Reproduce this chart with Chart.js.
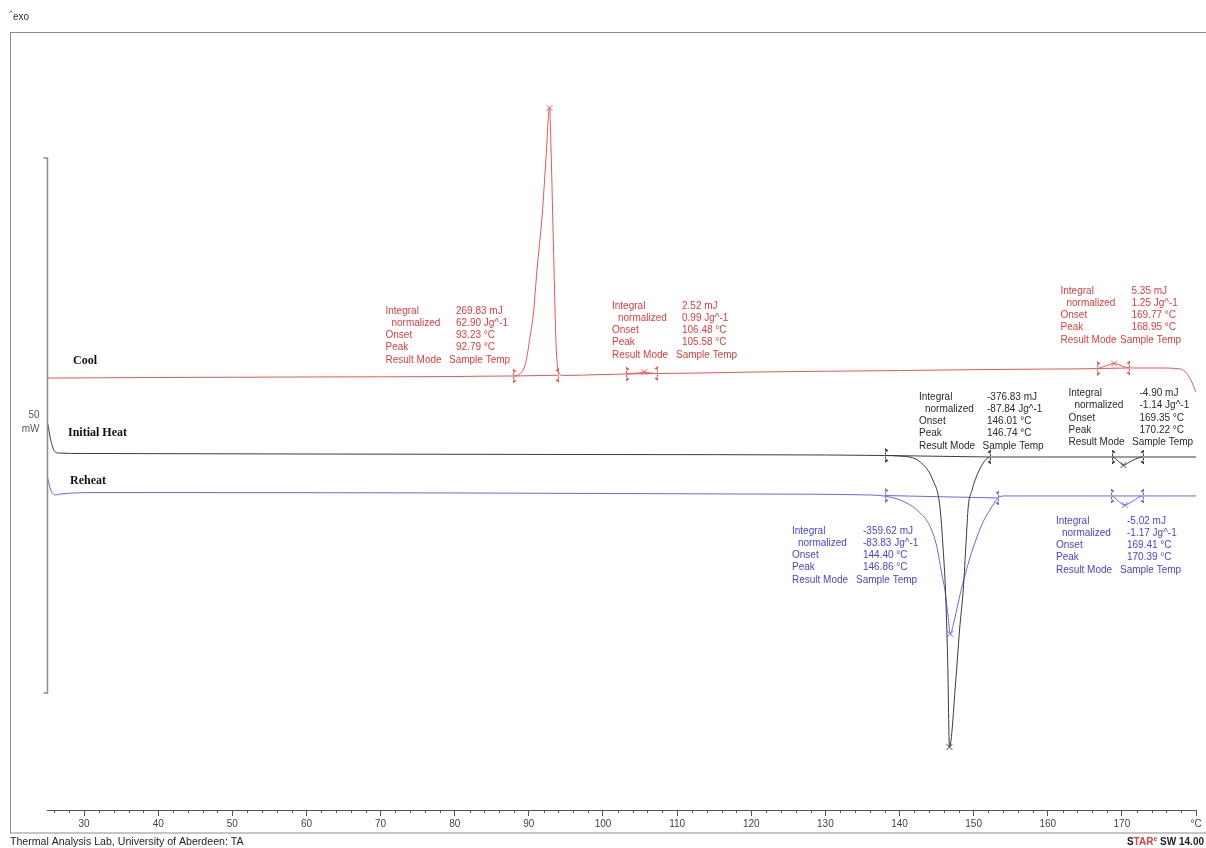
<!DOCTYPE html>
<html>
<head>
<meta charset="utf-8">
<title>DSC - Cool / Initial Heat / Reheat</title>
<script src="https://cdn.jsdelivr.net/npm/chart.js@4.4.1/dist/chart.umd.min.js"></script>
<style>
  html, body { margin: 0; padding: 0; background: #fff; }
  canvas { display: block; }
</style>
</head>
<body>
<canvas id="dsc" width="1206" height="848"></canvas>
<script>
// DSC run
// x = sample temperature (degC), y = heat flow (mW, each curve keeps its own offset)

var coolT = [25.1, 40, 60, 80, 87.0, 87.9, 88.8, 89.6, 90.2, 90.6,
  91.1, 91.8, 92.3, 92.79, 93.0, 93.2, 93.4, 93.65, 93.9, 94.3,
  94.8, 100, 103.1, 104.8, 105.58, 106.4, 107.3, 120, 140, 160,
  166.6, 167.8, 168.95, 170.2, 171.1, 175, 177.5, 178.6, 179.3, 180];
var coolMW = [40.37, 40.42, 40.47, 40.51, 40.56, 40.56, 40.75, 41.87, 44.39, 46.26,
  50.47, 55.61, 60.75, 65.61, 61.68, 56.07, 50.47, 43.93, 41.31, 40.65,
  40.61, 40.70, 40.75, 40.84, 40.93, 40.84, 40.79, 40.93, 41.07, 41.21,
  41.26, 41.50, 41.73, 41.45, 41.31, 41.31, 41.26, 40.93, 40.19, 39.07];

var heatT = [25.1, 25.5, 26.0, 26.6, 30, 60, 100, 130, 138, 140,
  142.8, 144.5, 145.46, 145.9, 146.2, 146.5, 146.74,
  147.6, 148.1, 148.6, 149.0, 149.27, 149.8, 150.2, 151.3, 152.2,
  160, 168.7, 169.5, 170.22, 171.3, 172.8, 180];
var heatMW = [36.10, 34.60, 33.55, 33.36, 33.32, 33.27, 33.22, 33.18, 33.13, 33.08,
  32.52, 30.84, 28.32, 24.30, 20.56, 14.02, 5.89,
  12.15, 16.82, 20.56, 25.23, 28.32, 29.91, 30.84, 32.43, 32.99,
  32.99, 32.99, 32.62, 32.24, 32.62, 32.99, 32.99];

var reheatT = [25.1, 25.5, 26.1, 26.8, 32, 80, 120, 136,
  138.7, 140.7, 142.8, 144.1, 145.05, 145.73, 146.13, 146.54, 146.86,
  147.34, 147.88, 148.42, 149.5, 150.45, 151.4, 152.2, 153.3, 154.2,
  168.6, 169.5, 170.39, 171.5, 172.8, 180];
var reheatMW = [31.03, 29.91, 29.44, 29.53, 29.67, 29.63, 29.53, 29.44,
  29.25, 28.79, 27.76, 26.54, 24.58, 21.96, 20.56, 18.22, 16.45,
  17.57, 19.25, 20.84, 23.55, 25.51, 27.10, 28.04, 29.16, 29.35,
  29.35, 28.88, 28.50, 28.88, 29.35, 29.35];

// integration limits (pairs: left, right)
var coolLimT = [87.9, 94.0, 103.1, 107.3, 166.6, 171.0];
var coolLimMW = [40.56, 40.63, 40.75, 40.79, 41.26, 41.31];
var heatLimT = [138.0, 152.2, 168.7, 172.8];
var heatLimMW = [33.13, 32.99, 32.99, 32.99];
var reheatLimT = [138.0, 153.3, 168.6, 172.8];
var reheatLimMW = [29.39, 29.16, 29.35, 29.35];

// peak markers
var coolPeakT = [92.79, 105.58, 168.95];
var coolPeakMW = [65.61, 40.93, 41.73];
var heatPeakT = [146.74, 170.22];
var heatPeakMW = [5.89, 32.24];
var reheatPeakT = [146.86, 170.39];
var reheatPeakMW = [16.45, 28.50];

// evaluation results: integral mJ, normalized Jg^-1, onset degC, peak degC
var coolResults = [
  ['269.83', '62.90', '93.23', '92.79'],
  ['2.52', '0.99', '106.48', '105.58'],
  ['5.35', '1.25', '169.77', '168.95']
];
var heatResults = [
  ['-376.83', '-87.84', '146.01', '146.74'],
  ['-4.90', '-1.14', '169.35', '170.22']
];
var reheatResults = [
  ['-359.62', '-83.83', '144.40', '146.86'],
  ['-5.02', '-1.17', '169.41', '170.39']
];

var scaleBarMW = [10.93, 60.93]; // 50 mW bar
var xTickStep = 2;

// ---- styling / layout ----
var RED = 'rgb(234,86,86)', RED_TXT = 'rgb(222,62,62)';
var BLK = 'rgb(60,60,60)', BLK_TXT = '#2a2a2a';
var BLU = 'rgb(104,104,232)', BLU_TXT = 'rgb(70,70,212)';

// label x, value x, "Sample Temp" x, first row y
var coolBoxes = [[385.5, 456, 449, 311], [612, 682, 676, 306], [1060.5, 1131.5, 1120, 291]];
var heatBoxes = [[919, 987, 982.5, 397], [1068.5, 1139.5, 1132, 393.5]];
var reheatBoxes = [[792, 863, 856, 531], [1056, 1127, 1120, 521]];

function pts(xs, ys) {
  return xs.map(function (x, i) { return {x: x, y: ys[i]}; });
}

function curve(label, xs, ys, color) {
  return {
    label: label, data: pts(xs, ys), borderColor: color, borderWidth: 1,
    pointRadius: 0, pointHoverRadius: 0, fill: false,
    cubicInterpolationMode: 'monotone'
  };
}

function peaks(xs, ys, color) {
  return {
    data: pts(xs, ys), showLine: false, pointStyle: 'crossRot',
    pointRadius: 4, pointBorderWidth: 1, borderColor: color, backgroundColor: color
  };
}

function baselines(xs, ys, color) {
  var out = [];
  for (var i = 0; i + 1 < xs.length; i += 2) {
    out.push({
      data: [{x: xs[i], y: ys[i]}, {x: xs[i + 1], y: ys[i + 1]}],
      borderColor: color, borderWidth: 1, pointRadius: 0, tension: 0
    });
  }
  return out;
}

var datasets = [
  curve('Cool', coolT, coolMW, RED),
  curve('Initial Heat', heatT, heatMW, BLK),
  curve('Reheat', reheatT, reheatMW, BLU),
  peaks(coolPeakT, coolPeakMW, RED),
  peaks(heatPeakT, heatPeakMW, BLK),
  peaks(reheatPeakT, reheatPeakMW, BLU)
].concat(baselines(coolLimT, coolLimMW, RED),
         baselines(heatLimT, heatLimMW, BLK),
         baselines(reheatLimT, reheatLimMW, BLU));

function limitMarks(c, sx, sy, xs, ys, color) {
  c.save();
  c.strokeStyle = color; c.fillStyle = color; c.lineWidth = 1;
  for (var i = 0; i < xs.length; i++) {
    var px = Math.round(sx.getPixelForValue(xs[i])) + 0.5;
    var py = sy.getPixelForValue(ys[i]);
    var dir = (i % 2 === 0) ? 1 : -1;
    c.setLineDash([2, 2]);
    c.beginPath(); c.moveTo(px, py - 7); c.lineTo(px, py + 7); c.stroke();
    c.setLineDash([]);
    [-5, 5].forEach(function (off) {
      c.beginPath();
      c.moveTo(px, py + off - 2);
      c.lineTo(px + dir * 3, py + off);
      c.lineTo(px, py + off + 2);
      c.closePath(); c.fill();
    });
  }
  c.restore();
}

function resultBox(c, res, box, color) {
  var labels = ['Integral', 'normalized', 'Onset', 'Peak', 'Result Mode'];
  var values = [res[0] + ' mJ', res[1] + ' Jg^-1', res[2] + ' \u00B0C', res[3] + ' \u00B0C', 'Sample Temp'];
  c.fillStyle = color;
  c.font = '10px "Liberation Sans", Arial, sans-serif';
  c.textBaseline = 'middle';
  c.textAlign = 'left';
  for (var i = 0; i < 5; i++) {
    var y = box[3] + i * 12.2;
    c.fillText(labels[i], box[0] + (i === 1 ? 6 : 0), y);
    c.fillText(values[i], i === 4 ? box[2] : box[1], y);
  }
}

var decor = {
  id: 'decor',
  beforeDraw: function (chart) {
    var c = chart.ctx;
    c.save();
    c.fillStyle = '#fff';
    c.fillRect(0, 0, chart.width, chart.height);
    c.strokeStyle = '#8c8c8c'; c.lineWidth = 1;
    c.strokeRect(10.5, 32.5, 1210, 800.5);
    c.restore();
  },
  afterDraw: function (chart) {
    var c = chart.ctx, sx = chart.scales.x, sy = chart.scales.y;
    c.save();

    // minor ticks on the temperature axis
    c.strokeStyle = '#555'; c.lineWidth = 1;
    sx.ticks.forEach(function (t) {
      if (Math.abs(t.value % 10) < 1e-6 || t.value === sx.max) return;
      var px = Math.round(sx.getPixelForValue(t.value)) + 0.5;
      c.beginPath(); c.moveTo(px, chart.chartArea.bottom); c.lineTo(px, chart.chartArea.bottom + 3); c.stroke();
    });

    // 50 mW scale bar
    var bx = chart.chartArea.left + 0.5;
    var b0 = sy.getPixelForValue(scaleBarMW[0]), b1 = sy.getPixelForValue(scaleBarMW[1]);
    c.strokeStyle = '#8a8a8a'; c.lineWidth = 1.5;
    c.beginPath();
    c.moveTo(bx - 4, b1); c.lineTo(bx, b1); c.lineTo(bx, b0); c.lineTo(bx - 4, b0);
    c.stroke();
    c.fillStyle = '#555';
    c.font = '10px "Liberation Sans", Arial, sans-serif';
    c.textAlign = 'right'; c.textBaseline = 'middle';
    c.fillText('50', 39.5, 415);
    c.fillText('mW', 39.5, 429);

    // exo marker
    c.textAlign = 'left';
    c.fillStyle = '#333';
    c.font = '10px "Liberation Sans", Arial, sans-serif';
    c.fillText('exo', 13, 17);
    c.font = '8px "Liberation Sans", Arial, sans-serif';
    c.fillText('^', 9, 13);

    // footer
    c.font = '10.6px "Liberation Sans", Arial, sans-serif';
    c.fillStyle = '#1e1e1e';
    c.fillText('Thermal Analysis Lab, University of Aberdeen: TA', 10, 842);
    c.font = 'bold 10px "Liberation Sans", Arial, sans-serif';
    c.textAlign = 'right';
    c.fillText(' SW 14.00', 1204, 842);
    var w1 = c.measureText(' SW 14.00').width;
    c.font = 'bold 7px "Liberation Sans", Arial, sans-serif';
    c.fillStyle = RED_TXT;
    c.fillText('e', 1204 - w1, 839);
    var we = c.measureText('e').width;
    c.font = 'bold 10px "Liberation Sans", Arial, sans-serif';
    c.fillText('TAR', 1204 - w1 - we, 842);
    var wt = c.measureText('TAR').width;
    c.fillStyle = '#1e1e1e';
    c.fillText('S', 1204 - w1 - we - wt, 842);

    // curve names
    c.textAlign = 'left';
    c.fillStyle = '#111';
    c.font = 'bold 12px "Liberation Serif", "Times New Roman", serif';
    c.fillText('Cool', 73, 361);
    c.fillText('Initial Heat', 68, 433);
    c.fillText('Reheat', 70, 481);

    // evaluation boxes
    coolResults.forEach(function (r, i) { resultBox(c, r, coolBoxes[i], RED_TXT); });
    heatResults.forEach(function (r, i) { resultBox(c, r, heatBoxes[i], BLK_TXT); });
    reheatResults.forEach(function (r, i) { resultBox(c, r, reheatBoxes[i], BLU_TXT); });

    // integration limit markers
    limitMarks(c, sx, sy, coolLimT, coolLimMW, RED);
    limitMarks(c, sx, sy, heatLimT, heatLimMW, BLK);
    limitMarks(c, sx, sy, reheatLimT, reheatLimMW, BLU);

    c.restore();
  }
};

var ctx = document.getElementById('dsc');
var dscChart = new Chart(ctx, {
  type: 'line',
  data: {datasets: datasets},
  plugins: [decor],
  options: {
    responsive: false,
    animation: false,
    events: [],
    layout: {padding: {left: 47, right: 10, top: 35, bottom: 0}},
    plugins: {legend: {display: false}, tooltip: {enabled: false}},
    scales: {
      x: {
        type: 'linear',
        min: 25, max: 180,
        afterFit: function (s) { s.height = 38; },
        border: {display: true, color: '#555', width: 1},
        grid: {
          drawOnChartArea: false, drawTicks: true, tickLength: 6,
          color: function (c) {
            var v = c.tick ? c.tick.value : 0;
            return (Math.abs(v % 10) < 1e-6 || v === 180) ? '#555' : 'rgba(0,0,0,0)';
          }
        },
        ticks: {
          stepSize: xTickStep, includeBounds: false, autoSkip: false, maxRotation: 0,
          padding: 2, color: '#444',
          font: {family: '"Liberation Sans", Arial, sans-serif', size: 10},
          callback: function (v) {
            if (v === 180) return '\u00B0C';
            return (Math.abs(v % 10) < 1e-6 && v >= 30) ? String(v) : '';
          }
        }
      },
      y: {type: 'linear', display: false, min: 0, max: 72.43}
    }
  }
});
</script>
</body>
</html>
